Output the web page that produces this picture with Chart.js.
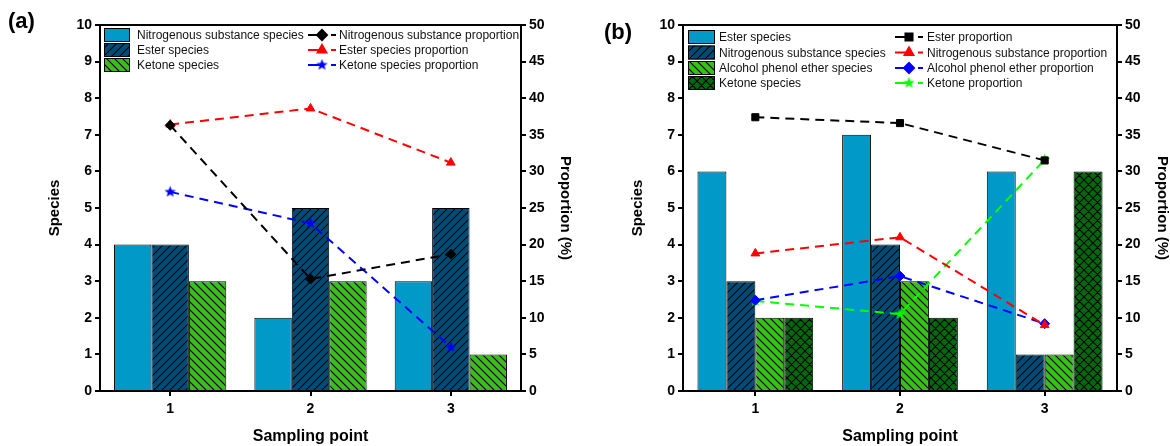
<!DOCTYPE html>
<html>
<head>
<meta charset="utf-8">
<script src="https://cdn.jsdelivr.net/npm/chart.js@4.4.1/dist/chart.umd.min.js"></script>
<style>
  body { margin: 0; background: #fff; width: 1170px; height: 446px; overflow: hidden; position: relative; }
  canvas { position: absolute; top: 0; }
  #chartA { left: 0; }
  #chartB { left: 580px; }
  .panel { position: absolute; font: bold 22px "Liberation Sans", Arial, sans-serif; color: #000; }
</style>
</head>
<body>
<canvas id="chartA" width="585" height="446"></canvas>
<canvas id="chartB" width="590" height="446"></canvas>
<div class="panel" style="left:8px;top:8px">(a)</div>
<div class="panel" style="left:604px;top:19px">(b)</div>
<script>
// categories and tick labels
const samplingPoints = ['1', '2', '3'];
const speciesTicks = [0, 1, 2, 3, 4, 5, 6, 7, 8, 9, 10];
const proportionTicks = [0, 5, 10, 15, 20, 25, 30, 35, 40, 45, 50];

// panel (a)
const aNitroSpecies = [4, 2, 3];
const aEsterSpecies = [4, 5, 5];
const aKetoneSpecies = [3, 3, 1];
const aNitroProp = [36.3, 15.3, 18.7];
const aEsterProp = [36.4, 38.6, 31.2];
const aKetoneProp = [27.2, 22.9, 6.0];

// panel (b)
const bEsterSpecies = [6, 7, 6];
const bNitroSpecies = [3, 4, 1];
const bAlcoholSpecies = [2, 3, 1];
const bKetoneSpecies = [2, 2, 6];
const bEsterProp = [37.4, 36.6, 31.5];
const bNitroProp = [18.8, 21.0, 9.0];
const bAlcoholProp = [12.4, 15.7, 9.2];
const bKetoneProp = [12.3, 10.5, 31.6];

const FONT = '"Liberation Sans", Arial, sans-serif';
const LIGHT_BLUE = '#0099c8', DARK_BLUE = '#004c78', GREEN = '#38bf1c', DARK_GREEN = '#006a0c';

// hatch fills
function hatch(bg, dirs, s) {
  const c = document.createElement('canvas');
  c.width = c.height = s;
  const g = c.getContext('2d');
  g.fillStyle = bg;
  g.fillRect(0, 0, s, s);
  g.strokeStyle = '#000';
  g.lineWidth = 1.1;
  g.beginPath();
  if (dirs.includes('/')) {
    g.moveTo(0, s); g.lineTo(s, 0);
    g.moveTo(-1, 1); g.lineTo(1, -1);
    g.moveTo(s - 1, s + 1); g.lineTo(s + 1, s - 1);
  }
  if (dirs.includes('\\')) {
    g.moveTo(0, 0); g.lineTo(s, s);
    g.moveTo(s - 1, -1); g.lineTo(s + 1, 1);
    g.moveTo(-1, s - 1); g.lineTo(1, s + 1);
  }
  g.stroke();
  return g.createPattern(c, 'repeat');
}

// filled five point star for the markers
function starImg(color) {
  const c = document.createElement('canvas');
  c.width = c.height = 13;
  const g = c.getContext('2d');
  g.fillStyle = color;
  g.beginPath();
  for (let i = 0; i < 10; i++) {
    const r = i % 2 ? 2.6 : 6;
    const a = -Math.PI / 2 + i * Math.PI / 5;
    g.lineTo(6.5 + r * Math.cos(a), 6.5 + r * Math.sin(a));
  }
  g.closePath();
  g.fill();
  return c;
}

function barSet(label, data, fill) {
  return {
    type: 'bar', label, data,
    backgroundColor: fill, borderColor: '#000', borderWidth: 1,
    barPercentage: 1, categoryPercentage: 0.8,
    yAxisID: 'y', order: 2
  };
}

function lineSet(label, data, color, pointStyle) {
  return {
    type: 'line', label, data,
    borderColor: color, backgroundColor: color,
    borderWidth: 2, borderDash: [9, 6], tension: 0,
    pointStyle, pointRadius: 5, pointBackgroundColor: color,
    pointBorderColor: color, pointBorderWidth: 1,
    yAxisID: 'y1', order: 1
  };
}

// two column legend inside the frame + top frame line
function legendPlugin(L) {
  return {
    id: 'customLegend',
    afterDraw(chart) {
      const ctx = chart.ctx;
      const ca = chart.chartArea;
      ctx.save();
      ctx.strokeStyle = '#000';
      ctx.lineWidth = 2;
      ctx.beginPath();
      ctx.moveTo(ca.left - 1, ca.top);
      ctx.lineTo(ca.right + 1, ca.top);
      ctx.stroke();

      ctx.font = '12px ' + FONT;
      ctx.textBaseline = 'middle';
      const bars = chart.data.datasets.filter(d => d.type === 'bar');
      const lines = chart.data.datasets.filter(d => d.type === 'line');
      bars.forEach((d, i) => {
        const y = L.rows[i];
        ctx.fillStyle = d.backgroundColor;
        ctx.fillRect(L.boxX, y - 7, L.boxW, 14);
        ctx.strokeStyle = '#000';
        ctx.lineWidth = 1;
        ctx.strokeRect(L.boxX + 0.5, y - 6.5, L.boxW - 1, 13);
        ctx.fillStyle = '#111';
        ctx.fillText(d.label, L.text1, y + 1);
      });
      lines.forEach((d, i) => {
        const y = L.rows[i];
        ctx.strokeStyle = d.borderColor;
        ctx.lineWidth = 2;
        ctx.beginPath();
        ctx.moveTo(L.lineX, y);
        ctx.lineTo(L.lineX + 15, y);
        ctx.moveTo(L.lineX + 23, y);
        ctx.lineTo(L.lineX + 28, y);
        ctx.stroke();
        ctx.fillStyle = d.borderColor;
        Chart.helpers.drawPoint(ctx, { pointStyle: d.pointStyle, radius: 5, rotation: 0, borderWidth: 1 }, L.lineX + 14, y);
        ctx.fillStyle = '#111';
        ctx.fillText(d.label, L.text2, y + 1);
      });
      ctx.restore();
    }
  };
}

function axisCommon() {
  return {
    grid: { drawOnChartArea: false, color: '#000', lineWidth: 2, tickLength: 5 },
    border: { color: '#000', width: 2 },
    ticks: { color: '#000', font: { family: FONT, size: 14, weight: 'bold' }, padding: 3 }
  };
}

function makeChart(id, datasets, pad, legend) {
  const x = axisCommon();
  x.grid.offset = false;
  x.ticks.padding = 5;
  const y = axisCommon();
  const y1 = axisCommon();
  return new Chart(document.getElementById(id), {
    data: { labels: samplingPoints, datasets },
    options: {
      responsive: false,
      animation: false,
      devicePixelRatio: 1,
      layout: { padding: { left: pad.left, right: pad.right, top: 25, bottom: 0 } },
      plugins: { legend: { display: false }, tooltip: { enabled: false } },
      scales: {
        x: Object.assign(x, {
          type: 'category', offset: true,
          title: { display: true, text: 'Sampling point', color: '#000', font: { family: FONT, size: 16, weight: 'bold' }, padding: 0 },
          afterFit(s) { s.height = 55; }
        }),
        y: Object.assign(y, {
          position: 'left', min: 0, max: 10,
          afterBuildTicks(s) { s.ticks = speciesTicks.map(v => ({ value: v })); },
          title: { display: true, text: 'Species', color: '#000', font: { family: FONT, size: 15, weight: 'bold' }, padding: { top: 4 } },
          afterFit(s) { s.width = pad.yW; }
        }),
        y1: Object.assign(y1, {
          position: 'right', min: 0, max: 50,
          afterBuildTicks(s) { s.ticks = proportionTicks.map(v => ({ value: v })); },
          title: { display: true, text: 'Proportion (%)', color: '#000', font: { family: FONT, size: 15, weight: 'bold' }, padding: { top: pad.rTitle } },
          afterFit(s) { s.width = pad.y1W; }
        })
      }
    },
    plugins: [legendPlugin(legend)]
  });
}

makeChart('chartA', [
  barSet('Nitrogenous substance species', aNitroSpecies, LIGHT_BLUE),
  barSet('Ester species', aEsterSpecies, hatch(DARK_BLUE, '/', 8)),
  barSet('Ketone species', aKetoneSpecies, hatch(GREEN, '\\', 8)),
  lineSet('Nitrogenous substance proportion', aNitroProp, '#000', 'rectRot'),
  lineSet('Ester species proportion', aEsterProp, '#ff0000', 'triangle'),
  lineSet('Ketone species proportion', aKetoneProp, '#0000ff', starImg('#0000ff'))
], { left: 42, yW: 58, right: 7, y1W: 57, rTitle: 4 },
   { boxX: 104, boxW: 26, text1: 137, lineX: 308, text2: 339, rows: [35, 50, 65] });

makeChart('chartB', [
  barSet('Ester species', bEsterSpecies, LIGHT_BLUE),
  barSet('Nitrogenous substance species', bNitroSpecies, hatch(DARK_BLUE, '/', 8)),
  barSet('Alcohol phenol ether species', bAlcoholSpecies, hatch(GREEN, '\\', 8)),
  barSet('Ketone species', bKetoneSpecies, hatch(DARK_GREEN, '/\\', 9)),
  lineSet('Ester proportion', bEsterProp, '#000', 'rect'),
  lineSet('Nitrogenous substance proportion', bNitroProp, '#ff0000', 'triangle'),
  lineSet('Alcohol phenol ether proportion', bAlcoholProp, '#0000ff', 'rectRot'),
  lineSet('Ketone proportion', bKetoneProp, '#00ff00', starImg('#00ff00'))
], { left: 45, yW: 58, right: 0, y1W: 53, rTitle: -1 },
   { boxX: 108, boxW: 27, text1: 139, lineX: 315, text2: 347, rows: [37, 52.5, 68, 83] });
</script>
</body>
</html>
